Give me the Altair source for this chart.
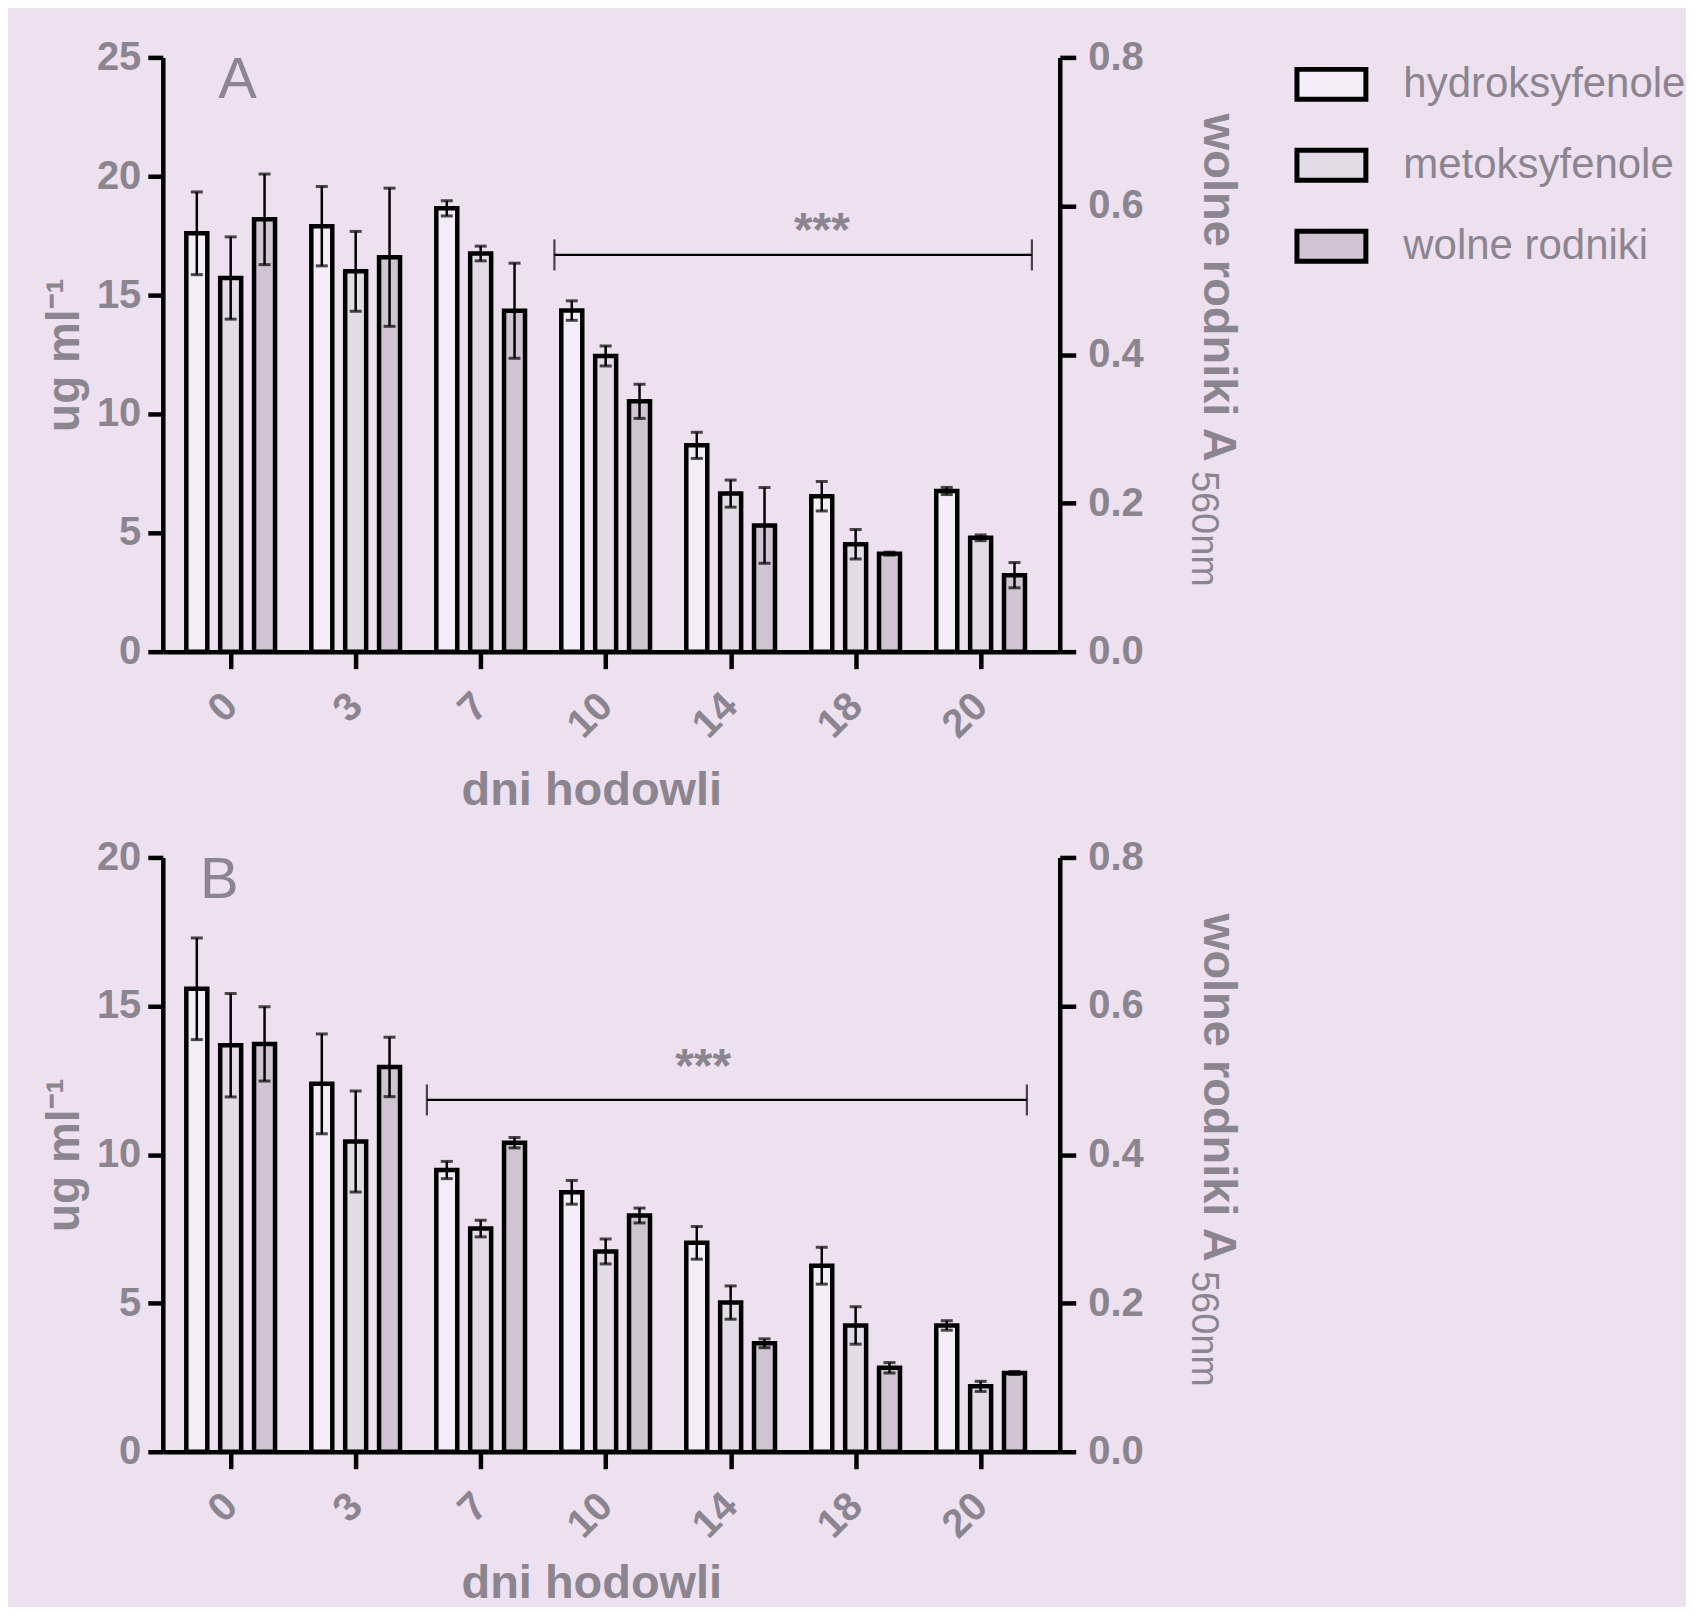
import altair as alt
import pandas as pd

# ---------------- data ----------------
days = ["0", "3", "7", "10", "14", "18", "20"]
series = ["hydroksyfenole", "metoksyfenole", "wolne rodniki"]

# Panel A (ug/ml for phenols, A560nm for radicals)
hydro_A = [17.6, 17.9, 18.65, 14.35, 8.68, 6.54, 6.76]
hydro_A_err = [1.74, 1.67, 0.32, 0.41, 0.55, 0.62, 0.15]
meto_A = [15.72, 16.0, 16.75, 12.44, 6.65, 4.52, 4.79]
meto_A_err = [1.73, 1.68, 0.31, 0.42, 0.57, 0.62, 0.12]
wolne_A = [0.582, 0.531, 0.459, 0.337, 0.170, 0.132, 0.103]
wolne_A_err = [0.061, 0.093, 0.064, 0.023, 0.051, 0.002, 0.017]

# Panel B
hydro_B = [15.58, 12.38, 9.48, 8.73, 7.03, 6.26, 4.25]
hydro_B_err = [1.71, 1.68, 0.29, 0.40, 0.55, 0.62, 0.16]
meto_B = [13.68, 10.44, 7.51, 6.74, 5.02, 4.25, 2.20]
meto_B_err = [1.74, 1.70, 0.28, 0.42, 0.56, 0.63, 0.17]
wolne_B = [0.549, 0.518, 0.416, 0.318, 0.146, 0.113, 0.106]
wolne_B_err = [0.050, 0.040, 0.007, 0.010, 0.006, 0.007, 0.002]

# significance brackets (x in group units, y in ug/ml)
bracket_A = {"x1": 2.59, "x2": 6.41, "y": 16.69, "sx": 4.73, "sy": 17.07}
bracket_B = {"x1": 1.57, "x2": 6.37, "y": 11.84, "sx": 3.78, "sy": 12.44}
letter_A = {"t": "A", "x": 0.055, "y": 23.28}
letter_B = {"t": "B", "x": -0.09, "y": 18.64}

# ---------------- style ----------------
GRAY = "#8b8590"
FONT = "Liberation Sans"
BG = "#ede0ef"
FILLS = ["#f4edf7", "#e3dbe6", "#d1c4d2"]
W, H = 898, 595
XDOM = [-0.503, 6.593]
OFFSET = 0.271

fill_scale = alt.Scale(domain=series, range=FILLS)
legend_cfg = alt.Legend(
    orient="none", legendX=1133, legendY=-10, title=None,
    symbolType="M-1,-0.435H1V0.435H-1Z", symbolSize=4761,
    symbolStrokeColor="black", symbolStrokeWidth=5,
    labelFont=FONT, labelFontSize=42, labelColor=GRAY, labelFontWeight="normal",
    labelOffset=35, rowPadding=18, labelLimit=500,
)


def frame(vals, errs, name, idx):
    return pd.DataFrame({
        "g": list(range(len(days))),
        "series": name,
        "s": idx,
        "value": vals,
        "lo": [v - e for v, e in zip(vals, errs)],
        "hi": [v + e for v, e in zip(vals, errs)],
    })


def panel(hyd, hyd_e, met, met_e, wol, wol_e, ymax, yvals, br, let, xtitle_y):
    left_df = pd.concat([frame(hyd, hyd_e, series[0], 0), frame(met, met_e, series[1], 1)])
    right_df = frame(wol, wol_e, series[2], 2)

    x_axis = alt.Axis(
        values=list(range(len(days))), labelExpr=f"{days}[datum.value]",
        labelAngle=-45, labelAlign="right", labelBaseline="middle", labelPadding=31,
        labelFont=FONT, labelFontSize=40, labelFontWeight="bold", labelColor=GRAY,
        labelFlush=False, labelOverlap=False,
        tickSize=17, tickWidth=4.5, tickColor="black",
        domainColor="black", domainWidth=4.5, grid=False,
        title="dni hodowli", titleFont=FONT, titleFontSize=47, titleFontWeight="bold",
        titleColor=GRAY, titleX=429, titleY=xtitle_y, titleAlign="center",
        titleBaseline="alphabetic",
    )
    left_axis = alt.Axis(
        values=yvals, grid=False, domainColor="black", domainWidth=4.5,
        tickColor="black", tickWidth=4.5, tickSize=15, labelPadding=7,
        labelFont=FONT, labelFontSize=40, labelFontWeight="bold", labelColor=GRAY,
        labelFlush=False, labelOverlap=False,
        title="ug ml\u207b\u00b9", titleFont=FONT, titleFontSize=46, titleFontWeight="bold",
        titleColor=GRAY, titleAngle=270, titleX=-84, titleY=H / 2,
        titleAlign="center", titleBaseline="alphabetic",
    )
    right_axis = alt.Axis(
        orient="right", values=[0, 0.2, 0.4, 0.6, 0.8], format=".1f", grid=False,
        domainColor="black", domainWidth=4.5, tickColor="black", tickWidth=4.5, tickSize=16,
        labelPadding=12, labelFont=FONT, labelFontSize=40, labelFontWeight="bold",
        labelColor=GRAY, labelFlush=False, labelOverlap=False,
        title="wolne rodniki A", titleFont=FONT, titleFontSize=47, titleFontWeight="bold",
        titleColor=GRAY, titleAngle=90, titleX=144, titleY=56,
        titleAlign="left", titleBaseline="alphabetic",
    )

    xscale = alt.Scale(domain=XDOM, nice=False, zero=False)

    def xenc(field="xpos"):
        return alt.X(f"{field}:Q", scale=xscale, axis=x_axis)

    calc = f"datum.g + (datum.s - 1) * {OFFSET}"
    yl_scale = alt.Scale(domain=[0, ymax], nice=False, zero=True)
    yr_scale = alt.Scale(domain=[0, 0.8], nice=False, zero=True)

    def yl(field):
        return alt.Y(f"{field}:Q", scale=yl_scale, axis=left_axis)

    def yr(field):
        return alt.Y(f"{field}:Q", scale=yr_scale, axis=right_axis)

    # ---- left (ug/ml) layer ----
    bl = alt.Chart(left_df).transform_calculate(xpos=calc)
    bars_l = bl.mark_bar(width=21, stroke="black", strokeWidth=4.5).encode(
        x=xenc(), y=yl("value"),
        fill=alt.Fill("series:N", scale=fill_scale, legend=legend_cfg),
    )
    err_l = bl.mark_rule(color="black", strokeWidth=2.5).encode(
        x=xenc(), y=yl("lo"), y2="hi:Q")
    cap_l = bl.transform_fold(["lo", "hi"], as_=["which", "v"]).mark_tick(
        orient="horizontal", size=12, thickness=3, color="black").encode(
        x=xenc(), y=yl("v"))

    br_df = pd.DataFrame({"x1": [br["x1"]], "x2": [br["x2"]], "y": [br["y"]]})
    br_line = alt.Chart(br_df).mark_rule(color="black", strokeWidth=2.2).encode(
        x=xenc("x1"), x2="x2:Q", y=yl("y"))
    br_ends = alt.Chart(pd.DataFrame({"x": [br["x1"], br["x2"]], "y": [br["y"], br["y"]]})).mark_tick(
        orient="vertical", size=31, thickness=2.2, color="black").encode(
        x=xenc("x"), y=yl("y"))
    stars = alt.Chart(pd.DataFrame({"x": [br["sx"]], "y": [br["sy"]], "t": ["***"]})).mark_text(
        font=FONT, fontSize=48, fontWeight="bold", color=GRAY, align="center",
        baseline="alphabetic").encode(
        x=xenc("x"), y=yl("y"), text="t:N")
    letter = alt.Chart(pd.DataFrame({"x": [let["x"]], "y": [let["y"]], "t": [let["t"]]})).mark_text(
        font=FONT, fontSize=58, color=GRAY, align="center", baseline="alphabetic").encode(
        x=xenc("x"), y=yl("y"), text="t:N")

    left_layer = alt.layer(bars_l, err_l, cap_l, br_line, br_ends, stars, letter)

    # ---- right (A560nm) layer ----
    br_r = alt.Chart(right_df).transform_calculate(xpos=calc)
    bars_r = br_r.mark_bar(width=21, stroke="black", strokeWidth=4.5).encode(
        x=xenc(), y=yr("value"),
        fill=alt.Fill("series:N", scale=fill_scale, legend=legend_cfg),
    )
    err_r = br_r.mark_rule(color="black", strokeWidth=2.5).encode(
        x=xenc(), y=yr("lo"), y2="hi:Q")
    cap_r = br_r.transform_fold(["lo", "hi"], as_=["which", "v"]).mark_tick(
        orient="horizontal", size=12, thickness=3, color="black").encode(
        x=xenc(), y=yr("v"))
    sub = alt.Chart(pd.DataFrame({"t": ["560nm"]})).mark_text(
        font=FONT, fontSize=38, color=GRAY, angle=90, align="left", baseline="alphabetic").encode(
        x=alt.value(W + 132), y=alt.value(414), text="t:N")

    right_layer = alt.layer(bars_r, err_r, cap_r, sub)

    return alt.layer(left_layer, right_layer).resolve_scale(y="independent").properties(
        width=W, height=H)


pA = panel(hydro_A, hydro_A_err, meto_A, meto_A_err, wolne_A, wolne_A_err,
           25, [0, 5, 10, 15, 20, 25], bracket_A, letter_A, 153)
pB = panel(hydro_B, hydro_B_err, meto_B, meto_B_err, wolne_B, wolne_B_err,
           20, [0, 5, 10, 15, 20], bracket_B, letter_B, 146)

chart = alt.vconcat(pA, pB, spacing=24).resolve_scale(fill="shared").properties(
    background=BG,
    padding={"left": 34, "top": 28.5, "right": 0, "bottom": -1},
).configure_view(stroke=None)

chart.save("out.html", embed_options={"renderer": "svg", "actions": False})
